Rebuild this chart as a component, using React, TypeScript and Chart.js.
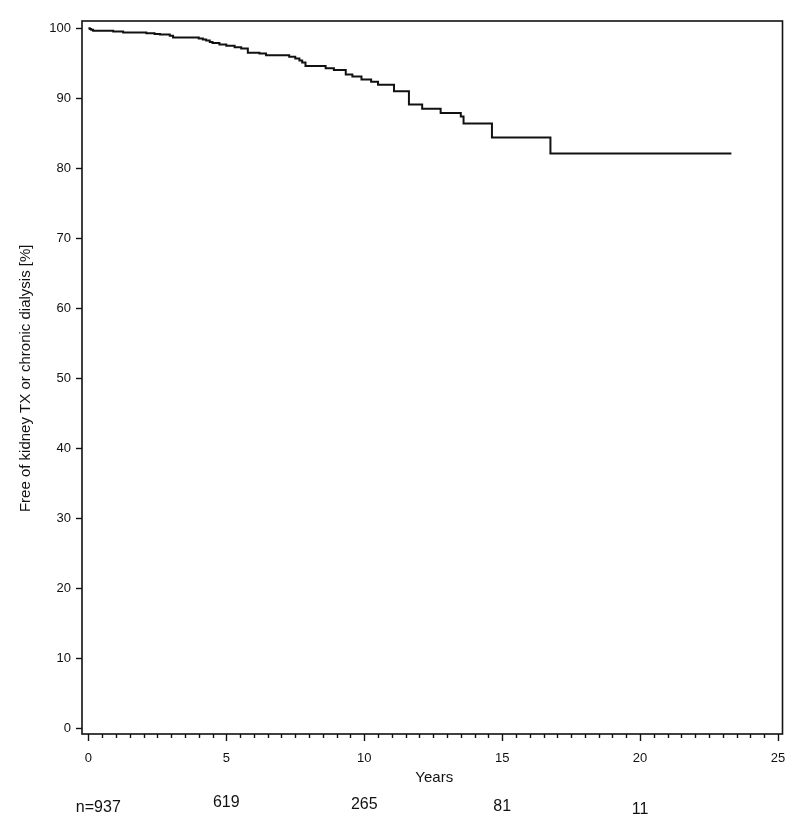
import React, { useEffect, useRef } from "react";
import { Chart, registerables } from "chart.js";

Chart.register(...registerables);

// Kaplan-Meier estimate: time (years) and survival (%) from that time onward
const times = [0, 0.05, 0.1, 0.17, 0.9, 1.26, 2.1, 2.4, 2.6, 2.95, 3.07, 4.0, 4.15, 4.27, 4.4, 4.5, 4.75, 5.0, 5.3, 5.54, 5.78, 6.2, 6.44, 7.28, 7.5, 7.65, 7.75, 7.87, 8.6, 8.9, 9.33, 9.57, 9.9, 10.25, 10.5, 11.08, 11.62, 12.1, 12.77, 13.5, 13.6, 14.63, 16.75, 23.31];
const survival = [100, 99.9, 99.8, 99.65, 99.55, 99.4, 99.3, 99.2, 99.1, 98.95, 98.7, 98.55, 98.4, 98.25, 98.05, 97.9, 97.7, 97.5, 97.3, 97.1, 96.5, 96.4, 96.15, 95.95, 95.7, 95.4, 95.1, 94.6, 94.3, 94.05, 93.4, 93.1, 92.7, 92.35, 91.95, 91.0, 89.1, 88.5, 87.9, 87.4, 86.4, 84.4, 82.1, 82.1];

// Axis tick labels
const xTickValues = [0, 5, 10, 15, 20, 25];
const yTickValues = [0, 10, 20, 30, 40, 50, 60, 70, 80, 90, 100];

// Numbers at risk
const riskTimes = [0.36, 5, 10, 15, 20];
const riskLabels = ["n=937", "619", "265", "81", "11"];
const riskRowY = [807.5, 802.3, 805, 806.5, 810];

const yTitle = "Free of kidney TX or chronic dialysis [%]";
const xTitle = "Years";

const FONT = "'Liberation Sans', Arial, Helvetica, sans-serif";

export default function App() {
  const ref = useRef<HTMLCanvasElement>(null);
  useEffect(() => {
    const canvas = ref.current;
    if (!canvas) return;
    const decor = {
      id: "decor",
      afterDraw(chart: any) {
        const ctx = chart.ctx;
        const a = chart.chartArea;
        const xs = chart.scales.x;
        const ys = chart.scales.y;
        ctx.save();
        ctx.strokeStyle = "#111";
        ctx.lineWidth = 1.6;
        ctx.strokeRect(a.left, a.top, a.right - a.left, a.bottom - a.top);
        // x ticks (minor every half year)
        ctx.lineWidth = 1.4;
        for (let i = 0; i <= 50; i++) {
          const v = i * 0.5;
          const px = Math.round(xs.getPixelForValue(v)) + 0.5;
          const len = i % 10 === 0 ? 7 : 4;
          ctx.beginPath();
          ctx.moveTo(px, a.bottom);
          ctx.lineTo(px, a.bottom + len);
          ctx.stroke();
        }
        // y ticks
        for (const v of yTickValues) {
          const py = Math.round(ys.getPixelForValue(v)) + 0.5;
          ctx.beginPath();
          ctx.moveTo(a.left, py);
          ctx.lineTo(a.left - 6, py);
          ctx.stroke();
        }
        ctx.fillStyle = "#111";
        // tick labels
        ctx.font = "13px " + FONT;
        ctx.textBaseline = "middle";
        ctx.textAlign = "right";
        for (const v of yTickValues) {
          ctx.fillText(String(v), a.left - 11, ys.getPixelForValue(v));
        }
        ctx.textAlign = "center";
        for (const v of xTickValues) {
          ctx.fillText(String(v), xs.getPixelForValue(v), a.bottom + 24);
        }
        // titles
        ctx.font = "15px " + FONT;
        ctx.fillText(xTitle, (a.left + a.right) / 2 + 2, a.bottom + 44);
        ctx.save();
        ctx.translate(26, (ys.getPixelForValue(0) + ys.getPixelForValue(100)) / 2);
        ctx.rotate(-Math.PI / 2);
        ctx.fillText(yTitle, 0, 0);
        ctx.restore();
        // numbers at risk
        ctx.font = "16px " + FONT;
        for (let i = 0; i < riskLabels.length; i++) {
          ctx.fillText(riskLabels[i], xs.getPixelForValue(riskTimes[i]), riskRowY[i]);
        }
        ctx.restore();
      },
    };
    const chart = new Chart(canvas, {
      type: "line",
      data: {
        datasets: [
          {
            data: times.map((t, i) => ({ x: t, y: survival[i] })),
            borderColor: "#111",
            borderWidth: 2,
            pointRadius: 0,
            stepped: true,
            fill: false,
          },
        ],
      },
      options: {
        responsive: false,
        animation: false,
        layout: { padding: { top: 21, right: 17.5, left: 0, bottom: 0 } },
        plugins: { legend: { display: false }, tooltip: { enabled: false } },
        scales: {
          x: {
            type: "linear",
            min: -0.232,
            max: 25.163,
            grid: { display: false },
            border: { display: false },
            ticks: { display: false },
            afterFit: (s: any) => {
              s.height = 93;
            },
          },
          y: {
            min: -0.81,
            max: 101.04,
            grid: { display: false },
            border: { display: false },
            ticks: { display: false },
            afterFit: (s: any) => {
              s.width = 82;
            },
          },
        },
      },
      plugins: [decor],
    });
    return () => chart.destroy();
  }, []);
  return (
    <div style={{ position: "absolute", left: 0, top: 0, width: 800, height: 827, background: "#fff" }}>
      <canvas ref={ref} width={800} height={827} />
    </div>
  );
}
